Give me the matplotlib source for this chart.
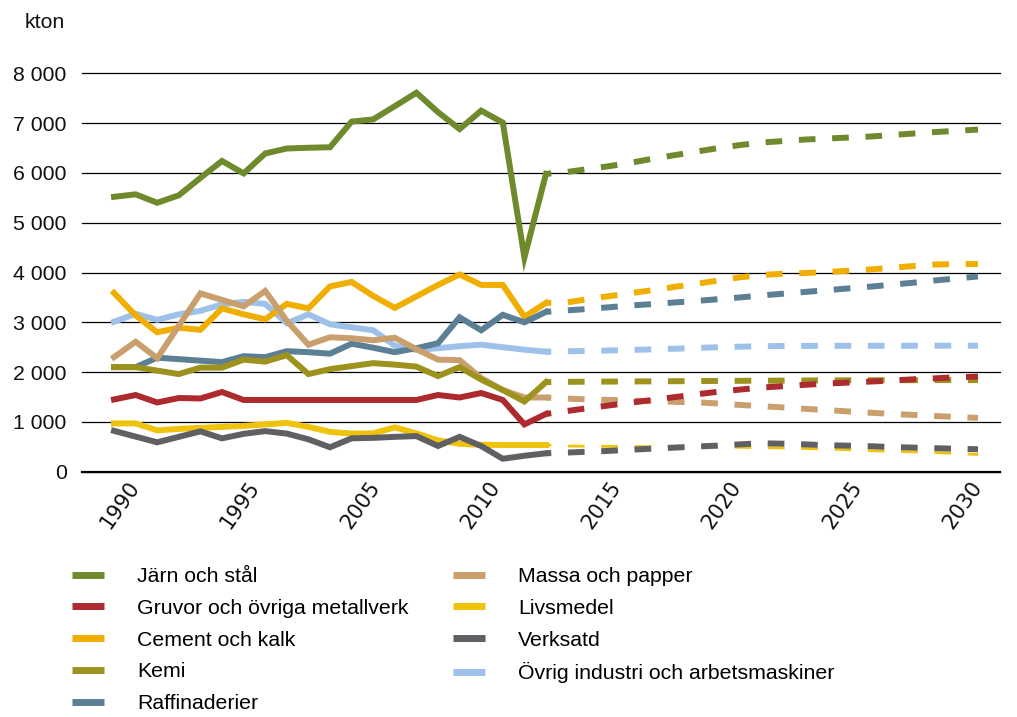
import matplotlib
matplotlib.use('Agg')
import matplotlib.pyplot as plt
from matplotlib.lines import Line2D
import numpy as np

# Historiska värden 1990-2010 och prognos 2010-2030 (kton)
years_hist = list(range(1990, 2011))
years_proj = list(range(2010, 2031))

jarn_hist = [5520, 5570, 5400, 5550, 5900, 6240, 5990, 6390, 6490, 6505, 6515,
             7030, 7075, 7340, 7610, 7220, 6880, 7250, 7010, 4300, 5980]
gruvor_hist = [1450, 1540, 1390, 1480, 1470, 1600, 1440, 1440, 1440, 1440, 1440,
               1440, 1440, 1440, 1440, 1540, 1490, 1580, 1440, 950, 1160]
cement_hist = [3590, 3140, 2800, 2890, 2850, 3280, 3160, 3060, 3370, 3280, 3720,
               3810, 3530, 3290, 3520, 3750, 3960, 3750, 3750, 3110, 3390]
kemi_hist = [2100, 2100, 2030, 1960, 2090, 2090, 2250, 2210, 2340, 1960, 2060,
             2120, 2180, 2150, 2110, 1920, 2100, 1850, 1640, 1410, 1800]
raff_hist = [2100, 2100, 2290, 2260, 2230, 2200, 2320, 2300, 2420, 2400, 2370,
             2570, 2490, 2400, 2480, 2580, 3100, 2840, 3150, 3000, 3210]
massa_hist = [2300, 2610, 2280, 2930, 3580, 3450, 3320, 3630, 3030, 2550, 2700,
              2680, 2640, 2690, 2460, 2250, 2240, 1880, 1640, 1490, 1490]
livs_hist = [970, 970, 830, 860, 880, 900, 920, 950, 980, 900, 800,
             765, 770, 890, 770, 630, 560, 540, 536, 536, 536]
verk_hist = [820, 705, 590, 700, 810, 670, 760, 815, 765, 650, 490,
             670, 680, 700, 715, 516, 700, 515, 260, 320, 370]
ovrig_hist = [3010, 3170, 3050, 3160, 3230, 3360, 3410, 3370, 2980, 3160, 2960,
              2900, 2840, 2530, 2445, 2480, 2520, 2550, 2500, 2450, 2410]

jarn_proj = [5980, 6020, 6080, 6140, 6210, 6290, 6360, 6430, 6500, 6560, 6610,
             6640, 6670, 6690, 6710, 6730, 6760, 6790, 6820, 6845, 6870]
gruvor_proj = [1160, 1220, 1280, 1335, 1390, 1445, 1500, 1555, 1607, 1650, 1690,
               1718, 1745, 1770, 1790, 1810, 1830, 1855, 1875, 1895, 1910]
cement_proj = [3390, 3400, 3470, 3530, 3590, 3650, 3715, 3775, 3840, 3905, 3950,
               3975, 3990, 4010, 4035, 4060, 4095, 4130, 4160, 4170, 4170]
kemi_proj = [1800, 1805, 1807, 1810, 1812, 1815, 1817, 1820, 1822, 1825, 1827,
             1829, 1831, 1833, 1835, 1836, 1837, 1838, 1839, 1840, 1840]
raff_proj = [3210, 3240, 3270, 3305, 3340, 3367, 3400, 3430, 3465, 3500, 3540,
             3575, 3610, 3645, 3680, 3715, 3755, 3795, 3840, 3880, 3920]
massa_proj = [1490, 1468, 1450, 1440, 1428, 1415, 1403, 1392, 1370, 1340, 1315,
              1290, 1262, 1237, 1210, 1185, 1160, 1140, 1118, 1098, 1080]
livs_proj = [536, 515, 510, 508, 505, 502, 500, 496, 493, 490, 485,
             476, 466, 456, 440, 422, 410, 400, 385, 365, 345]
verk_proj = [370, 385, 402, 420, 442, 465, 485, 505, 525, 550, 570,
             562, 548, 532, 522, 512, 494, 484, 472, 460, 450]
ovrig_proj = [2410, 2418, 2425, 2435, 2445, 2458, 2470, 2485, 2500, 2510, 2520,
              2524, 2526, 2527, 2528, 2528, 2529, 2529, 2530, 2530, 2530]

names = ["Järn och stål", "Gruvor och övriga metallverk", "Cement och kalk",
         "Kemi", "Raffinaderier", "Massa och papper", "Livsmedel", "Verksatd",
         "Övrig industri och arbetsmaskiner"]
colors = ["#6f8a2d", "#ad2a2f", "#f0ae00", "#9e921e", "#5b7f95",
          "#c9a06d", "#efc20c", "#5f5f64", "#9dc1e8"]
hist = [jarn_hist, gruvor_hist, cement_hist, kemi_hist, raff_hist,
        massa_hist, livs_hist, verk_hist, ovrig_hist]
proj = [jarn_proj, gruvor_proj, cement_proj, kemi_proj, raff_proj,
        massa_proj, livs_proj, verk_proj, ovrig_proj]
# ritordning (högre = överst)
zorders = [9, 6, 3, 5, 3.5, 4, 7, 8, 2]

tick_labels = ['1990', '1995', '2005', '2010', '2015', '2020', '2025', '2030']

W, H = 1017, 717
fig = plt.figure(figsize=(W / 100, H / 100), dpi=100)
ax = fig.add_axes([82 / W, 1 - 471.7 / H, (1000 - 82) / W, (471.7 - 73.3) / H])

LW = 4.3
for i in range(len(names)):
    ax.plot(years_hist, hist[i], color=colors[i], lw=LW, zorder=zorders[i],
            solid_joinstyle='miter')
    if names[i] == "Livsmedel":
        lw_d = 2.0
    else:
        lw_d = LW
    on = 12.0 / lw_d
    ax.plot(years_proj, proj[i], color=colors[i], lw=lw_d, zorder=zorders[i],
            linestyle=(8.2 / lw_d, (on, on)), dash_capstyle='butt')

ax.set_xlim(1990 - 32 / 21.6, 2030 + 22 / 21.6)
ax.set_ylim(0, 8000)
ax.set_yticks(range(0, 8001, 1000))
ax.set_yticklabels([f"{v:,}".replace(',', ' ') for v in range(0, 8001, 1000)],
                   fontfamily='Liberation Sans', fontsize=15.3, color='#111111')
ax.tick_params(axis='y', length=0, pad=11)

ax.set_xticks(np.linspace(1991.35, 2030.4, 8))
ax.set_xticklabels(tick_labels, rotation=55, ha='right', va='top',
                   fontfamily='DejaVu Sans', fontsize=15, color='#111111')
ax.tick_params(axis='x', length=0, pad=4)

ax.yaxis.grid(True, color='black', lw=0.9)
for gl in ax.get_ygridlines():
    gl.set_clip_on(False)
ax.axhline(0, color='black', lw=1.6, zorder=1, clip_on=False)
ax.set_axisbelow(True)
for s in ax.spines.values():
    s.set_visible(False)

fig.text(25 / W, 1 - 22 / H, 'kton', fontfamily='Liberation Sans', fontsize=15.3,
         va='center', ha='left', color='#111111')

handles = [Line2D([0], [0], color=c, lw=5, linestyle='-', solid_capstyle='butt')
           for c in colors]
common = dict(loc='upper left', frameon=False, borderpad=0, borderaxespad=0,
              handlelength=1.5, handletextpad=1.55, labelspacing=0.6,
              prop={'family': 'Liberation Sans', 'size': 15.3})
leg1 = fig.legend(handles[:5], names[:5], bbox_to_anchor=(72 / W, 1 - 567 / H), **common)
leg2 = fig.legend(handles[5:], names[5:], bbox_to_anchor=(453 / W, 1 - 567 / H), **common)

fig.savefig('out.png', dpi=100)
